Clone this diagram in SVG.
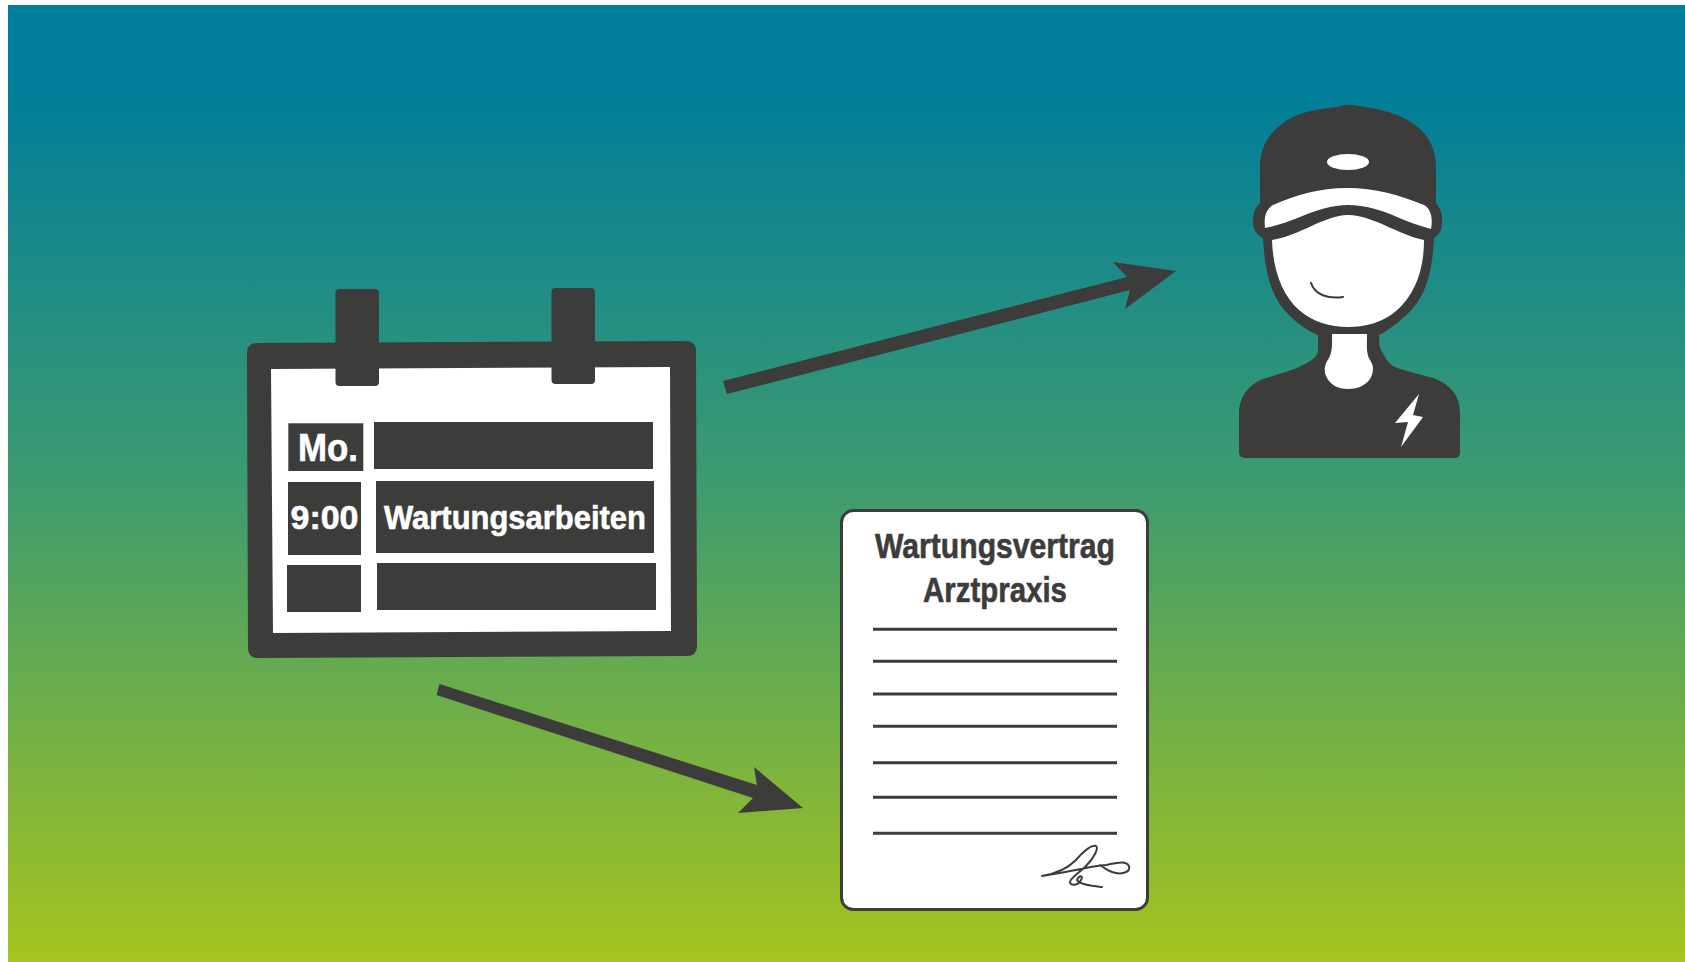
<svg xmlns="http://www.w3.org/2000/svg" width="1685" height="962" viewBox="0 0 1685 962">
<style>
.d{fill:#3c3c3b}
.w{fill:#fff}
.t{font-family:"Liberation Sans",Arial,sans-serif;font-weight:700;text-anchor:start}
.tw{stroke:#fff;stroke-width:.6}
.td{stroke:#3c3c3b;stroke-width:.6}
.rule{stroke:#3c3c3b;stroke-width:3;fill:none}
.pen{stroke:#3c3c3b;fill:none;stroke-linecap:round;stroke-linejoin:round}
</style>
<defs>
<linearGradient id="bg" x1="0" y1="0" x2="0" y2="1">
<stop offset="0.08" stop-color="#007d9b"/>
<stop offset="0.5" stop-color="#3d9b70"/>
<stop offset="1" stop-color="#a6c41e"/>
</linearGradient>
</defs>
<rect width="1685" height="962" fill="#fff"/>
<rect x="8" y="5" width="1677" height="957" fill="url(#bg)"/>
<g id="connectors" class="d">
<polygon id="arrow-person" points="723,381 1127,277 1113,262 1176,271 1125,309 1130,290 727,394"/>
<polygon id="arrow-contract" points="439.500,684 757,785 754,767 803,808 738,813 753,798 436.500,695"/>
</g>
<g id="calendar">
<path class="d" d="M257 343 L686 341 Q696 341 696 351 L697 646 Q697 656 687 656 L258 658 Q248 658 248 648 L247 353 Q247 343 257 343Z"/>
<polygon class="w" points="271,369 670,367 671,631 273,633"/>
<rect class="d" x="335.500" y="289" width="43.500" height="97" rx="4"/>
<rect class="d" x="551.500" y="288" width="43.500" height="96" rx="4"/>
<rect class="d" x="288.300" y="423.300" width="75" height="47.700"/>
<rect class="d" x="374" y="422" width="279" height="47"/>
<rect class="d" x="288" y="482" width="73" height="73"/>
<rect class="d" x="376" y="481" width="278" height="72"/>
<rect class="d" x="287" y="565" width="74" height="47"/>
<rect class="d" x="377" y="563" width="279" height="47"/>
<text class="t w tw" x="298" y="461" font-size="38" textLength="60" lengthAdjust="spacingAndGlyphs">Mo.</text>
<text class="t w tw" x="290.500" y="529" font-size="34" textLength="68" lengthAdjust="spacingAndGlyphs">9:00</text>
<text class="t w tw" x="384" y="529" font-size="34" textLength="262" lengthAdjust="spacingAndGlyphs">Wartungsarbeiten</text>
</g>
<g id="contract">
<rect x="841.500" y="510.500" width="306" height="399" rx="12" fill="#fff" stroke="#3c3c3b" stroke-width="3"/>
<text class="t d td" x="875" y="558" font-size="35" textLength="240" lengthAdjust="spacingAndGlyphs">Wartungsvertrag</text>
<text class="t d td" x="923" y="602" font-size="35" textLength="144" lengthAdjust="spacingAndGlyphs">Arztpraxis</text>
<path class="rule" d="M873 629.300H1117M873 661.300H1117M873 694H1117M873 726.300H1117M873 762.700H1117M873 797.300H1117M873 833.300H1117"/>
<path class="pen" stroke-width="2" d="M1042 876 C1060 873 1070 866 1076 860 C1084 851 1092 845 1096 846 C1099 848 1094 858 1086 866 C1079 873 1070 878 1070 882 C1070 886 1078 886 1081 880 C1084 875 1079 875 1077 880 C1080 885 1092 886 1102 887 M1042 876 C1065 873 1090 866 1106 865 C1116 863 1126 860 1129 866 C1131 873 1120 875 1112 872 C1106 870 1103 867 1100 865"/>
</g>
<g id="technician">
<path class="d" d="M1337 107 Q1348 103 1358 106 C1375 108 1386 111 1397 115 C1425 126 1436 145 1436 167 L1436 203 C1440 207 1443 215 1442 223 C1442 230 1439 235 1434 238 C1432 275 1425 300 1404 317 C1395 325 1387 331 1379 335 C1379 345 1380 350 1383 353 C1386 360 1390 365 1397 368 C1410 372 1422 375 1433 378 C1450 384 1460 395 1460 413 L1460 452 Q1460 458 1454 458 L1246 458 Q1239 458 1239 452 L1239 413 C1239 396 1250 384 1263 379 C1278 374 1292 371 1303 365 C1312 361 1318 356 1318 350 L1318 335 C1308 331 1300 325 1291 317 C1272 300 1265 275 1263 238 C1257 235 1253 230 1253 222 C1253 214 1255 207 1260 203 L1260 167 C1260 145 1271 126 1300 114 C1312 110 1325 108 1337 107Z"/>
<path class="w" d="M1265 228 C1264 218 1265 210 1273 205 C1295 195 1320 188 1347 188 C1375 188 1400 195 1424 205 C1431 209 1433 218 1431 229 C1420 226 1408 222 1397 217 C1382 210 1365 205 1348 205 C1332 205 1316 210 1300 217 C1288 222 1276 226 1265 228Z"/>
<path class="w" d="M1272 240 C1285 238 1295 233 1305 229 C1320 222 1335 215 1348 215 C1362 215 1378 222 1393 229 C1403 233 1413 238 1424 240 C1424 270 1415 295 1396 311 C1382 323 1365 327 1348 327 C1330 327 1313 322 1299 310 C1282 295 1273 270 1272 240Z"/>
<path class="w" d="M1332 334 L1367 334 C1367 345 1366 354 1370 360 C1374 366 1374 372 1370 379 C1365 386 1357 389 1348 389 C1338 389 1330 385 1326 376 C1323 369 1326 362 1329 358 C1333 350 1332 342 1332 334Z"/>
<ellipse class="w" cx="1348" cy="162" rx="21" ry="8"/>
<path class="pen" stroke-width="2.200" d="M1311 283 C1315 295 1328 299 1343 297"/>
<polygon class="w" points="1419,394 1395,423 1408,422 1401,447 1423,417 1413,415"/>
</g>
</svg>
